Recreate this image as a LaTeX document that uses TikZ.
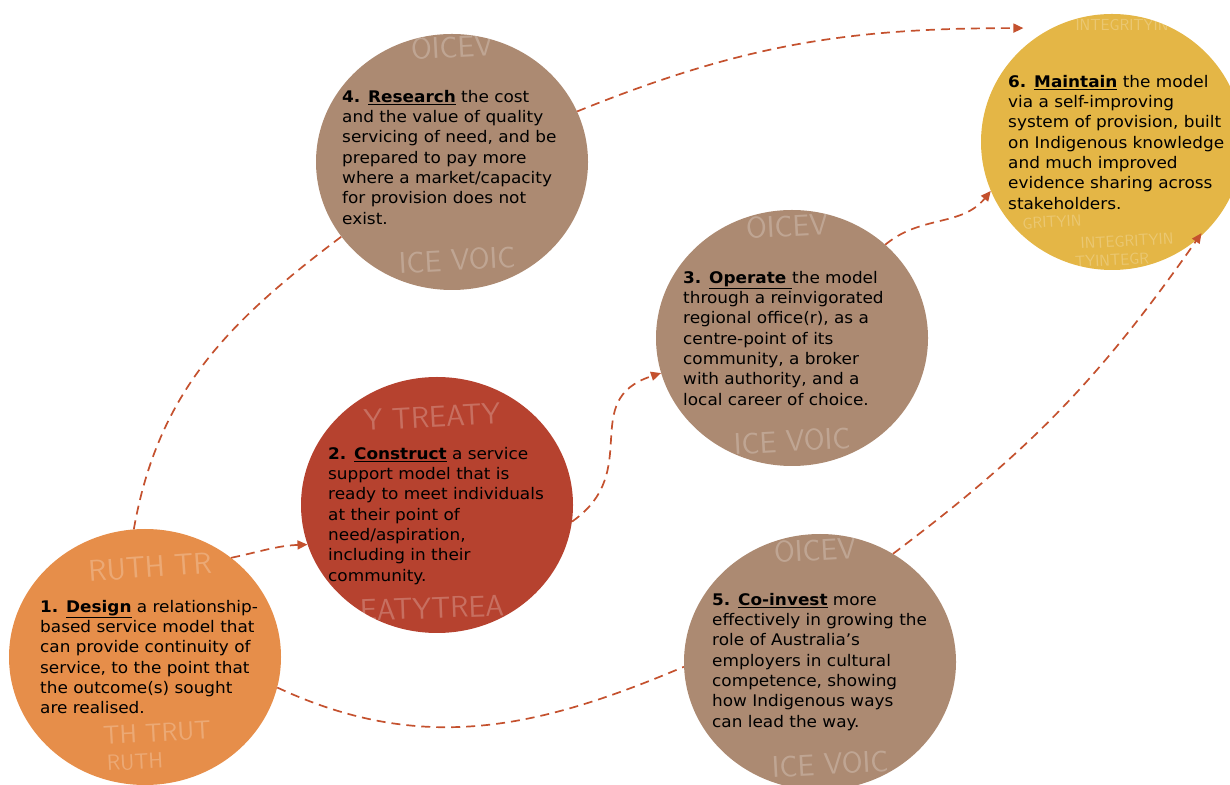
\documentclass[tikz,border=0pt]{standalone}
\usepackage{fontspec}
\setmainfont{DejaVu Sans}[FakeStretch=1.055]
\usetikzlibrary{arrows.meta}
\usetikzlibrary{shapes.geometric}
\usetikzlibrary{calc}
\definecolor{orangeblob}{HTML}{E68E4A}
\definecolor{redblob}{HTML}{B6422F}
\definecolor{tanblob}{HTML}{AC8A72}
\definecolor{yellowblob}{HTML}{E4B646}
\definecolor{arrowred}{HTML}{C4512E}
\tikzset{
  blob/.style= {ellipse, inner sep=0, minimum width=272, minimum height=256},
  steptext/.style= {anchor=north west, align=left, inner sep=0, font=\fontsize{16}{20.3}\selectfont},
  faint/.style= {text=white, opacity=0.24, inner sep=0, font=\fontsize{30}{30}\sffamily},
  smallfaint/.style= {faint, font=\fontsize{16}{16}\sffamily},
  flow/.style= {draw=arrowred, line width=1.7, dash pattern=on 9pt off 6pt},
  flowtip/.style= {flow, -{Triangle[length=10,width=9]}},
}

\begin{document}
\begin{tikzpicture}[x=1pt, y=1pt]
  \useasboundingbox (0,0) rectangle (1230,784);

  \node [blob, fill=orangeblob, path picture={
    \node [faint, rotate=4] at ($(path picture bounding box.center)+(5,90)$) {RUTH TR};
    \node [faint, rotate=3, font=\fontsize{26}{26}\sffamily] at ($(path picture bounding box.center)+(12,-76)$) {TH TRUT};
    \node [faint, rotate=3, font=\fontsize{22}{22}\sffamily] at ($(path picture bounding box.center)+(-10,-105)$) {RUTH};
  }] (b1) at (145,127) {};
  \node [blob, fill=redblob, path picture={
    \node [faint, rotate=3] at ($(path picture bounding box.center)+(-5,88)$) {Y TREATY};
    \node [faint, rotate=2] at ($(path picture bounding box.center)+(-5,-103)$) {EATYTREA};
  }] (b2) at (437,279) {};
  \node [blob, fill=tanblob, path picture={
    \node [faint, rotate=3] at ($(path picture bounding box.center)+(-5,112)$) {OICEV};
    \node [faint, rotate=3] at ($(path picture bounding box.center)+(0,-103)$) {ICE VOIC};
  }] (b3) at (792,446) {};
  \node [blob, fill=tanblob, path picture={
    \node [faint, rotate=3] at ($(path picture bounding box.center)+(0,115)$) {OICEV};
    \node [faint, rotate=3] at ($(path picture bounding box.center)+(5,-98)$) {ICE VOIC};
  }] (b4) at (452,622) {};
  \node [blob, fill=tanblob, path picture={
    \node [faint, rotate=3] at ($(path picture bounding box.center)+(-5,112)$) {OICEV};
    \node [faint, rotate=3] at ($(path picture bounding box.center)+(10,-102)$) {ICE VOIC};
  }] (b5) at (820,122) {};
  \node [blob, fill=yellowblob, minimum width=262, path picture={
    \node [smallfaint] at ($(path picture bounding box.center)+(10,117)$) {INTEGRITYIN};
    \node [smallfaint, rotate=3] at ($(path picture bounding box.center)+(-60,-80)$) {GRITYIN};
    \node [smallfaint, rotate=3] at ($(path picture bounding box.center)+(15,-99)$) {INTEGRITYIN};
    \node [smallfaint, rotate=3] at ($(path picture bounding box.center)+(0,-118)$) {TYINTEGR};
  }] (b6) at (1112,642) {};

  \node [steptext] (t1) at (40,184) {\textbf{1. \underline{Design}} a relationship-\\based service model that\\can provide continuity of\\service, to the point that\\the outcome(s) sought\\are realised.};
  \node [steptext] (t2) at (328,337) {\textbf{2. \underline{Construct}} a service\\support model that is\\ready to meet individuals\\at their point of\\need/aspiration,\\including in their\\community.};
  \node [steptext] (t3) at (683,513) {\textbf{3. \underline{Operate\ }}the model\\through a reinvigorated\\regional office(r), as a\\centre-point of its\\community, a broker\\with authority, and a\\local career of choice.};
  \node [steptext] (t4) at (342,694) {\textbf{4. \underline{Research}} the cost\\and the value of quality\\servicing of need, and be\\prepared to pay more\\where a market/capacity\\for provision does not\\exist.};
  \node [steptext] (t5) at (712,191) {\textbf{5. \underline{Co-invest}} more\\effectively in growing the\\role of Australia’s\\employers in cultural\\competence, showing\\how Indigenous ways\\can lead the way.};
  \node [steptext] (t6) at (1008,709) {\textbf{6. \underline{Maintain}} the model\\via a self-improving\\system of provision, built\\on Indigenous knowledge\\and much improved\\evidence sharing across\\stakeholders.};

  \draw [flow] (b1.95) to[out=80, in=217] (b4.214);
  \draw [flowtip] (b1.49) to[out=12, in=182] (b2.197);
  \draw [flowtip] (b2.-7) to[out=35, in=198, looseness=1.3] (b3.195);
  \draw [flowtip] (b4.22) to[out=22, in=180] ($(b6.128)+(-9,12)$);
  \draw [flowtip] (b3.45) to[out=40, in=231] (b6.202);
  \draw [flow] (b1.-13) to[out=-25, in=203] (b5.182);
  \draw [flowtip, shorten >=-8pt] (b5.56) to[out=37, in=235] (b6.-49);
\end{tikzpicture}
\end{document}
